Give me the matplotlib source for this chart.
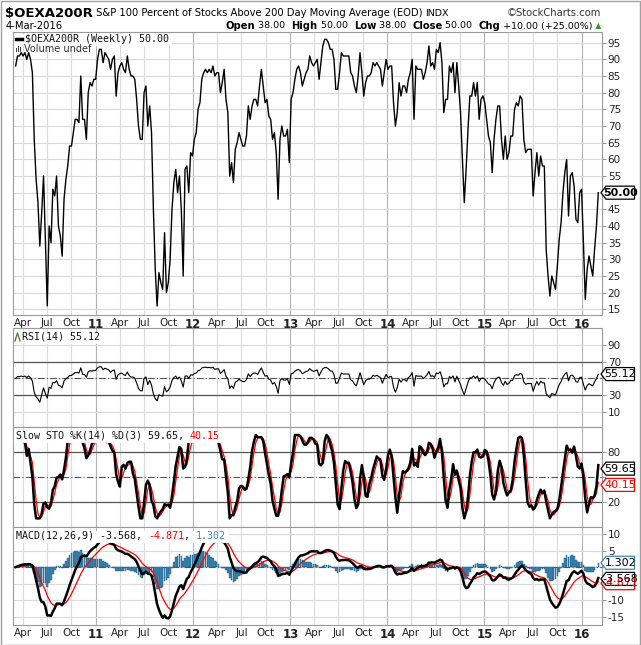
import numpy as np
import pandas as pd
import matplotlib
matplotlib.use("Agg")
import matplotlib.pyplot as plt
import matplotlib.dates as mdates
from matplotlib.patches import Polygon, Rectangle

# weekly close of $OEXA200R (Mar 2010 .. 4 Mar 2016)
pct_above = [
    88, 91, 91, 92, 91, 92, 90, 92, 90, 86,
    66, 54, 47, 34, 44, 55, 36, 16, 40, 35,
    51, 49, 55, 40, 37, 31, 48, 54, 58, 64,
    64, 68, 72, 72, 71, 85, 72, 72, 66, 80,
    83, 82, 84, 84, 90, 93, 93, 89, 92, 91,
    90, 87, 90, 91, 79, 86, 88, 89, 87, 86,
    91, 87, 85, 85, 84, 78, 70, 66, 66, 80,
    82, 70, 76, 68, 45, 27, 16, 26, 23, 21,
    38, 20, 23, 30, 45, 53, 57, 50, 55, 45,
    25, 57, 58, 50, 62, 61, 66, 68, 75, 77,
    84, 86, 87, 86, 87, 86, 88, 85, 86, 86,
    80, 83, 87, 78, 74, 55, 59, 53, 63, 65,
    68, 66, 64, 64, 67, 76, 72, 76, 78, 78,
    76, 82, 87, 82, 77, 78, 73, 72, 66, 68,
    62, 48, 66, 70, 67, 67, 69, 59, 78, 80,
    84, 87, 88, 86, 82, 84, 86, 87, 91, 89,
    88, 89, 90, 84, 89, 94, 96, 96, 95, 93,
    93, 90, 81, 81, 86, 92, 91, 91, 91, 91,
    86, 85, 82, 80, 85, 92, 86, 79, 83, 85,
    85, 86, 89, 88, 89, 88, 87, 82, 86, 90,
    87, 88, 88, 77, 70, 74, 83, 79, 82, 82,
    80, 84, 86, 90, 72, 88, 87, 87, 87, 84,
    86, 89, 94, 88, 89, 87, 93, 92, 95, 89,
    74, 78, 78, 88, 86, 89, 80, 89, 82, 74,
    60, 47, 57, 69, 79, 79, 83, 79, 83, 72,
    78, 79, 77, 72, 67, 65, 56, 66, 72, 76,
    76, 66, 60, 67, 60, 62, 67, 67, 75, 77,
    76, 79, 78, 66, 62, 63, 63, 63, 49, 56,
    62, 55, 61, 58, 58, 33, 25, 19, 25, 23,
    21, 28, 36, 41, 50, 56, 60, 43, 55, 56,
    52, 42, 41, 50, 51, 35, 18, 27, 31, 28,
    25, 33, 40, 50,
]
last_date = "2016-03-04"

main_ticks = list(range(15, 100, 5))
rsi_ticks = [10, 30, 50, 70, 90]
sto_ticks = [20, 50, 80]
macd_ticks = [10, 5, 0, -5, -10, -15]

# values printed in the legends / tags of the reference
last_close = "50.00"
rsi_last = "55.12"
sto_k_last, sto_d_last = "59.65", "40.15"
macd_last, macd_sig_last, macd_hist_last = "-3.568", "-4.871", "1.302"

W, H = 641, 645
LEFT, RIGHT = 12.7, 601.5
GRID = "#dadada"
YEARGRID = "#b4b4b4"
BORDER = "#9a9a9a"
HIST = "#3f88b3"

close = pd.Series(pct_above, dtype=float,
                  index=pd.date_range(end=last_date, periods=len(pct_above), freq="7D"))

# indicators (Wilder RSI seeded neutral, since no history before the chart)
delta = close.diff()
seed = delta.abs().mean() / 2
up = delta.clip(lower=0).fillna(seed)
down = (-delta.clip(upper=0)).fillna(seed)
gain = up.ewm(alpha=1 / 14, adjust=False).mean()
loss = down.ewm(alpha=1 / 14, adjust=False).mean()
rsi = 100 - 100 / (1 + gain / loss)

ll = close.rolling(14, min_periods=1).min()
hh = close.rolling(14, min_periods=1).max()
fast_k = 100 * (close - ll) / (hh - ll).replace(0, np.nan)
slow_k = fast_k.rolling(3, min_periods=1).mean()
slow_d = slow_k.rolling(3, min_periods=1).mean()

macd = close.ewm(span=12, adjust=False).mean() - close.ewm(span=26, adjust=False).mean()
signal = macd.ewm(span=9, adjust=False).mean()
hist = macd - signal

fig = plt.figure(figsize=(W / 100, H / 100), dpi=100)
fig.patches.append(Rectangle((0.5 / W, 0.5 / H), 1 - 1.5 / W, 1 - 1.5 / H,
                             transform=fig.transFigure, fill=False,
                             edgecolor="#a0a0a0", linewidth=1.0))


def add_panel(top, bottom):
    return fig.add_axes([LEFT / W, 1 - bottom / H, (RIGHT - LEFT) / W, (bottom - top) / H])


ax_main = add_panel(32, 315)
ax_rsi = add_panel(328.3, 426.7)
ax_sto = add_panel(426.7, 526.7)
ax_macd = add_panel(526.7, 625)

x0 = mdates.date2num(pd.Timestamp("2010-02-22"))
x1 = mdates.date2num(pd.Timestamp("2016-03-16"))
quarters = pd.date_range("2010-04-01", "2016-01-01", freq="QS")
q_labels = [str(d.year)[2:] if d.month == 1 else d.strftime("%b") for d in quarters]

for ax in (ax_main, ax_rsi, ax_sto, ax_macd):
    ax.set_xlim(x0, x1)
    ax.set_facecolor("white")
    for s in ax.spines.values():
        s.set_color(BORDER)
        s.set_linewidth(0.8)
    for d in quarters:
        ax.axvline(d, color=YEARGRID if d.month == 1 else GRID, lw=0.8, zorder=0)
    ax.yaxis.tick_right()
    ax.tick_params(axis="y", length=3, width=0.6, color="#888888", labelsize=7.5,
                   pad=1.5, labelcolor="#222222")
    ax.set_xticks(mdates.date2num(quarters))
    ax.tick_params(axis="x", length=0, labelsize=7.5, pad=2.5, labelcolor="#222222")
    ax.set_xticklabels(q_labels)
    for lab, d in zip(ax.get_xticklabels(), quarters):
        if d.month == 1:
            lab.set_fontweight("bold")
            lab.set_fontsize(8.5)

for ax in (ax_rsi, ax_sto):
    ax.tick_params(axis="x", labelbottom=False)


def right_labels(ax, ticks, hidden=()):
    ax.set_yticks(ticks)
    ax.set_yticklabels(["" if t in hidden else str(t) for t in ticks])


# main panel
ax_main.set_ylim(13.3, 98.2)
right_labels(ax_main, main_ticks, hidden=(50,))
for v in main_ticks:
    ax_main.axhline(v, color=GRID, lw=0.8, zorder=0)
ax_main.plot(close.index, close.values, color="black", lw=1.0, zorder=3)

# RSI
ax_rsi.set_ylim(-8.1, 110.1)
right_labels(ax_rsi, rsi_ticks, hidden=(50,))
for v in rsi_ticks:
    ax_rsi.axhline(v, color=GRID, lw=0.8, zorder=0)
ax_rsi.axhline(70, color="#555555", lw=0.9, zorder=1)
ax_rsi.axhline(30, color="#555555", lw=0.9, zorder=1)
ax_rsi.axhline(50, color="#555555", lw=0.8, ls=(0, (6, 2, 1, 2)), zorder=1)
ax_rsi.plot(rsi.index, rsi.values, color="black", lw=0.8, zorder=3)

# Slow stochastic
ax_sto.set_ylim(-10, 110)
right_labels(ax_sto, sto_ticks, hidden=(50,))
ax_sto.axhline(80, color="#555555", lw=0.9, zorder=1)
ax_sto.axhline(20, color="#555555", lw=0.9, zorder=1)
ax_sto.axhline(50, color="#555555", lw=0.8, ls=(0, (6, 2, 1, 2)), zorder=1)
ax_sto.plot(slow_d.index, slow_d.values, color="red", lw=0.9, zorder=3)
ax_sto.plot(slow_k.index, slow_k.values, color="black", lw=1.8, zorder=4)

# MACD
ax_macd.set_ylim(-17.5, 12.2)
right_labels(ax_macd, macd_ticks, hidden=(0, -5))
for v in macd_ticks:
    ax_macd.axhline(v, color=GRID, lw=0.8, zorder=0)
ax_macd.axhline(0, color="#555555", lw=0.8, ls=(0, (6, 2, 1, 2)), zorder=1)
ax_macd.bar(hist.index, hist.values, width=6, color=HIST, edgecolor="#1f5d84",
            linewidth=0.3, zorder=2)
ax_macd.plot(signal.index, signal.values, color="red", lw=0.9, zorder=3)
ax_macd.plot(macd.index, macd.values, color="black", lw=1.8, zorder=4)

renderer = fig.canvas.get_renderer()


def run(x, y, pieces, align="left"):
    """Write text pieces one after another at pixel x (left or right end), centre y."""
    texts = []
    for s, kw in pieces:
        t = fig.text(0, 1 - y / H, s, ha="left", va="center", zorder=5, **kw)
        texts.append(t)
    widths = [t.get_window_extent(renderer).width for t in texts]
    start = x - sum(widths) if align == "right" else x
    pos = start
    for t, w in zip(texts, widths):
        t.set_x(pos / W)
        pos += w
    return start, pos


def white_box(xa, xb, y, h, edge=None):
    fig.patches.append(Rectangle((xa / W, 1 - (y + h / 2) / H), (xb - xa) / W, h / H,
                                 transform=fig.transFigure, facecolor="white",
                                 edgecolor=edge or "white", linewidth=0.6, zorder=2))


def value_tag(ax, value, text, edge, color, bold=False):
    yp = H - ax.transData.transform((x0, value))[1]
    xa, xb, h = RIGHT - 0.5, RIGHT + 33, 13
    pts = [(xa, yp), (xa + 5, yp - h / 2), (xb, yp - h / 2), (xb, yp + h / 2), (xa + 5, yp + h / 2)]
    fig.patches.append(Polygon([(px / W, 1 - py / H) for px, py in pts], closed=True,
                               transform=fig.transFigure, facecolor="white",
                               edgecolor=edge, linewidth=0.9, zorder=4))
    fig.text((xa + 5 + xb) / 2 / W, 1 - yp / H, text, ha="center", va="center",
             fontsize=8, color=color, fontweight="bold" if bold else "normal", zorder=6)


# header
mono = dict(family="DejaVu Sans Mono", fontsize=7.2, color="#111111")
run(5, 13, [("$OEXA200R", dict(fontsize=9.5, fontweight="bold", color="black")),
            (" S&P 100 Percent of Stocks Above 200 Day Moving Average (EOD) ",
             dict(fontsize=7.2, color="black")),
            ("INDX", dict(fontsize=6.8, color="black"))])
fig.text(601 / W, 1 - 13 / H, "\u00a9StockCharts.com", ha="right", va="center",
         fontsize=7.2, color="#333333")
fig.text(6 / W, 1 - 26 / H, "4-Mar-2016", ha="left", va="center", fontsize=7.2, color="black")
b = dict(fontsize=7.2, fontweight="bold", color="black")
n = dict(fontsize=6.8, color="black")
run(601, 26, [("Open", b), (" 38.00  ", n), ("High", b), (" 50.00  ", n), ("Low", b),
              (" 38.00  ", n), ("Close", b), (" 50.00  ", n), ("Chg", b),
              (" +10.00 (+25.00%)", n), (" \u25b2", dict(fontsize=5.5, color="#2a9d2a"))],
    align="right")

# panel legends
fig.lines.append(plt.Line2D([16 / W, 22 / W], [1 - 39 / H, 1 - 39 / H], lw=2.5,
                            color="black", transform=fig.transFigure, zorder=6))
xa, xb = run(25, 39, [("$OEXA200R (Weekly) 50.00", mono)])
white_box(14, xb + 2, 39, 11)
# small bar icon in front of "Volume undef"
for k, hgt in enumerate((4, 6, 5)):
    fig.patches.append(Rectangle(((16 + 2 * k) / W, 1 - 52 / H), 1.4 / W, hgt / H,
                                 transform=fig.transFigure, facecolor="#444444",
                                 edgecolor="none", zorder=6))
fig.text(24 / W, 1 - 48.5 / H, "Volume undef", ha="left", va="center", fontsize=7,
         color="#333333", zorder=6)

xa, xb = run(22, 337, [("RSI(14) " + rsi_last, mono)])
white_box(14, xb + 2, 337, 11)
fig.lines.append(plt.Line2D([15 / W, 17.5 / W, 20 / W], [1 - 341 / H, 1 - 333 / H, 1 - 341 / H],
                            lw=1.0, color="#4f7f4f", transform=fig.transFigure, zorder=6))

xa, xb = run(16, 436, [("Slow STO %K(14) %D(3) " + sto_k_last + ", ", mono),
                       (sto_d_last, dict(mono, color="red"))])
white_box(14, xb + 2, 436, 11)

xa, xb = run(16, 536, [("MACD(12,26,9) " + macd_last + ", ", mono),
                       (macd_sig_last, dict(mono, color="red")), (", ", mono),
                       (macd_hist_last, dict(mono, color=HIST))])
white_box(14, xb + 2, 536, 11)

# value tags on the right
value_tag(ax_main, float(last_close), last_close, "black", "black", bold=True)
value_tag(ax_rsi, float(rsi_last), rsi_last, "black", "black")
value_tag(ax_sto, float(sto_d_last), sto_d_last, "red", "red")
value_tag(ax_sto, float(sto_k_last), sto_k_last, "black", "black")
value_tag(ax_macd, float(macd_hist_last), macd_hist_last, HIST, "black")
value_tag(ax_macd, float(macd_sig_last), macd_sig_last, "red", "red")
value_tag(ax_macd, float(macd_last), macd_last, "black", "black")

fig.savefig("out.png", dpi=100)
